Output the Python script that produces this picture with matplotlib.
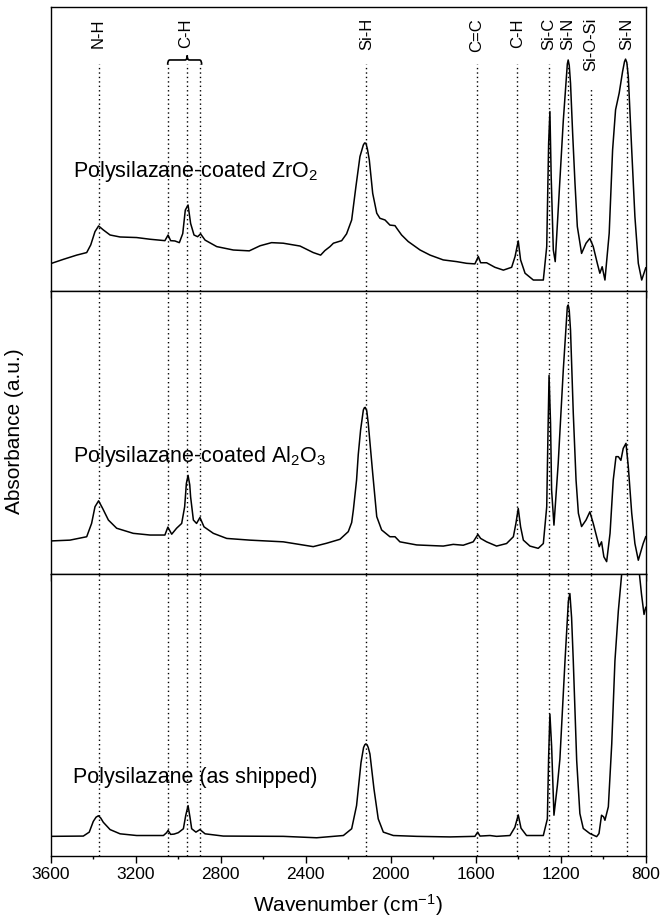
import matplotlib
matplotlib.use('Agg')
import matplotlib.pyplot as plt
from matplotlib.path import Path
from matplotlib.patches import PathPatch
import matplotlib.transforms as mtransforms

plt.rcParams['font.family'] = ['Liberation Sans', 'DejaVu Sans']
plt.rcParams['mathtext.fontset'] = 'custom'
plt.rcParams['mathtext.rm'] = 'Liberation Sans'
plt.rcParams['mathtext.it'] = 'Liberation Sans:italic'

# --- data (wavenumber cm-1, absorbance a.u.) ---
wn_zro2 = [3604, 3541, 3478, 3431, 3412, 3392, 3375, 3353, 3321, 3274, 3196, 3133,
           3063, 3048, 3036, 3016, 2995, 2979, 2967, 2954, 2942, 2926, 2909, 2895,
           2874, 2819, 2741, 2666, 2615, 2561, 2506, 2427, 2365, 2330, 2310, 2286,
           2270, 2231, 2208, 2184, 2164, 2145, 2129, 2123, 2117, 2110, 2101, 2085,
           2066, 2051, 2027, 2004, 1980, 1972, 1949, 1918, 1862, 1815, 1753, 1690,
           1643, 1604, 1588, 1577, 1549, 1510, 1470, 1431, 1415, 1400, 1389, 1368,
           1329, 1282, 1266, 1257, 1251, 1245, 1235, 1226, 1212, 1188, 1169, 1165,
           1160, 1154, 1144, 1133, 1122, 1102, 1081, 1063, 1047, 1028, 1016, 1005,
           992, 972, 956, 942, 925, 909, 900, 895, 889, 882, 866, 851, 835, 819, 800]
abs_zro2 = [0.094, 0.110, 0.125, 0.134, 0.161, 0.208, 0.228, 0.214, 0.196, 0.189, 0.187, 0.181,
            0.176, 0.196, 0.176, 0.175, 0.169, 0.201, 0.284, 0.302, 0.237, 0.196, 0.190, 0.200,
            0.178, 0.155, 0.143, 0.140, 0.158, 0.169, 0.167, 0.157, 0.134, 0.125, 0.141, 0.155,
            0.167, 0.176, 0.200, 0.249, 0.367, 0.473, 0.514, 0.521, 0.520, 0.500, 0.461, 0.343,
            0.273, 0.255, 0.249, 0.231, 0.229, 0.220, 0.196, 0.173, 0.143, 0.125, 0.108, 0.102,
            0.096, 0.094, 0.120, 0.098, 0.098, 0.082, 0.072, 0.082, 0.120, 0.175, 0.108, 0.061,
            0.037, 0.037, 0.155, 0.520, 0.632, 0.402, 0.143, 0.102, 0.285, 0.600, 0.800, 0.814,
            0.795, 0.732, 0.555, 0.379, 0.226, 0.131, 0.167, 0.184, 0.155, 0.096, 0.061, 0.084,
            0.037, 0.202, 0.496, 0.638, 0.697, 0.773, 0.808, 0.817, 0.805, 0.755, 0.496, 0.261,
            0.096, 0.037, 0.080]

wn_al2o3 = [3604, 3510, 3431, 3408, 3392, 3375, 3356, 3329, 3290, 3212, 3133, 3063,
            3049, 3031, 3008, 2984, 2970, 2962, 2954, 2946, 2942, 2929, 2914, 2898,
            2879, 2835, 2772, 2663, 2506, 2365, 2302, 2239, 2200, 2184, 2176, 2161,
            2153, 2142, 2129, 2124, 2120, 2113, 2106, 2085, 2066, 2043, 2004, 1980,
            1957, 1878, 1753, 1706, 1659, 1612, 1590, 1577, 1549, 1502, 1455, 1423,
            1411, 1400, 1389, 1376, 1345, 1306, 1282, 1266, 1260, 1255, 1248, 1243,
            1232, 1212, 1188, 1169, 1165, 1160, 1154, 1141, 1128, 1117, 1102, 1081,
            1063, 1047, 1031, 1019, 1008, 997, 984, 968, 953, 940, 929, 917, 906, 893,
            882, 866, 851, 835, 812, 800]
abs_al2o3 = [0.115, 0.118, 0.130, 0.177, 0.236, 0.257, 0.230, 0.189, 0.160, 0.142, 0.136, 0.136,
             0.164, 0.139, 0.160, 0.177, 0.236, 0.318, 0.347, 0.313, 0.271, 0.189, 0.177, 0.198,
             0.165, 0.142, 0.124, 0.118, 0.112, 0.095, 0.107, 0.121, 0.148, 0.180, 0.225, 0.330,
             0.420, 0.507, 0.578, 0.586, 0.587, 0.575, 0.531, 0.354, 0.201, 0.154, 0.130, 0.130,
             0.112, 0.101, 0.097, 0.103, 0.100, 0.112, 0.138, 0.124, 0.112, 0.097, 0.106, 0.130,
             0.177, 0.230, 0.165, 0.118, 0.097, 0.089, 0.106, 0.236, 0.500, 0.700, 0.530, 0.295,
             0.171, 0.389, 0.720, 0.943, 0.949, 0.930, 0.860, 0.566, 0.330, 0.213, 0.166, 0.189,
             0.218, 0.177, 0.130, 0.095, 0.112, 0.059, 0.042, 0.142, 0.330, 0.413, 0.413, 0.400,
             0.442, 0.460, 0.377, 0.213, 0.106, 0.047, 0.106, 0.130]

wn_ship = [3604, 3447, 3419, 3400, 3387, 3376, 3365, 3353, 3321, 3274, 3196, 3070,
           3055, 3048, 3036, 3020, 3000, 2976, 2965, 2954, 2945, 2937, 2917, 2898,
           2874, 2788, 2506, 2349, 2223, 2184, 2161, 2140, 2128, 2122, 2117, 2111,
           2106, 2098, 2079, 2059, 2035, 1988, 1878, 1721, 1604, 1591, 1580, 1533,
           1502, 1439, 1416, 1400, 1387, 1361, 1282, 1263, 1257, 1251, 1243, 1232,
           1216, 1204, 1180, 1164, 1157, 1149, 1141, 1125, 1110, 1094, 1063, 1031,
           1020, 1008, 998, 992, 976, 960, 945, 929, 913, 880, 845, 830, 820, 808, 800]
abs_ship = [0.068, 0.069, 0.083, 0.121, 0.136, 0.141, 0.133, 0.118, 0.092, 0.077, 0.071, 0.071,
            0.081, 0.089, 0.075, 0.076, 0.081, 0.095, 0.142, 0.177, 0.136, 0.095, 0.083, 0.092,
            0.077, 0.069, 0.068, 0.063, 0.071, 0.095, 0.177, 0.330, 0.383, 0.393, 0.396, 0.392,
            0.383, 0.360, 0.236, 0.130, 0.083, 0.071, 0.068, 0.066, 0.068, 0.083, 0.069, 0.071,
            0.068, 0.071, 0.100, 0.144, 0.097, 0.071, 0.071, 0.130, 0.350, 0.501, 0.388, 0.143,
            0.248, 0.342, 0.690, 0.903, 0.929, 0.844, 0.690, 0.337, 0.149, 0.096, 0.078, 0.067,
            0.078, 0.143, 0.137, 0.125, 0.173, 0.396, 0.690, 0.867, 1.000, 1.250, 1.100, 1.000,
            0.927, 0.855, 0.880]

band_pos = [3375, 3050, 2958, 2898, 2115, 1595, 1405, 1255, 1165, 1058, 890]
band_names = ['N-H', None, 'C-H', None, 'Si-H', 'C=C', 'C-H', 'Si-C', 'Si-N', 'Si-O-Si', 'Si-N']

spectra = [(wn_zro2, abs_zro2, 'Polysilazane-coated ZrO$_2$', 0.402),
           (wn_al2o3, abs_al2o3, 'Polysilazane-coated Al$_2$O$_3$', 0.395),
           (wn_ship, abs_ship, 'Polysilazane (as shipped)', 0.257)]

fig = plt.figure(figsize=(6.64, 9.24), dpi=100)
left, width = 0.0765, 0.896
bottoms = [0.6856, 0.3793, 0.0741]
heights = [0.3065, 0.3063, 0.3052]

axes = []
for i, (wn, ab, name, ty) in enumerate(spectra):
    ax = fig.add_axes([left, bottoms[i], width, heights[i]])
    ax.plot(wn, ab, color='black', lw=1.1)
    ax.set_xlim(3600, 800)
    ax.set_ylim(0, 1)
    ax.set_yticks([])
    ax.set_xticks(range(800, 3601, 400))
    ax.set_xticks(range(800, 3601, 200), minor=True)
    ax.tick_params(axis='x', which='major', direction='out', length=5, width=1,
                   labelsize=12.5, pad=3)
    ax.tick_params(axis='x', which='minor', direction='out', length=2.5, width=1)
    if i < 2:
        ax.tick_params(axis='x', labelbottom=False)
    for s in ax.spines.values():
        s.set_linewidth(1.0)
    ax.text(0.037, ty, name, transform=ax.transAxes, fontsize=15.5, va='baseline')
    axes.append(ax)

# dotted band markers through all panels
dot = dict(color='black', lw=1.0, linestyle=(0, (1, 2.2)))
for j, p in enumerate(band_pos):
    top = 0.715 if band_names[j] == 'Si-O-Si' else 0.80
    axes[0].axvline(p, ymin=0, ymax=top, **dot)
    axes[1].axvline(p, **dot)
    axes[2].axvline(p, **dot)

# rotated labels at top
tr = mtransforms.blended_transform_factory(axes[0].transData, axes[0].transAxes)
for j, p in enumerate(band_pos):
    if band_names[j] is None:
        continue
    x = 2966 if j == 2 else p
    axes[0].text(x, 0.962, band_names[j], rotation=90, ha='center', va='top',
                 fontsize=12, transform=tr)

# curly brace over the three C-H lines
y0, y1, y2 = 0.797, 0.814, 0.830
verts = [(3050, y0), (3050, y1), (3040, y1), (2968, y1), (2958, y1), (2958, y2),
         (2958, y1), (2948, y1), (2900, y1), (2890, y1), (2890, y0)]
codes = [Path.MOVETO, Path.CURVE3, Path.CURVE3, Path.LINETO, Path.CURVE3, Path.CURVE3,
         Path.CURVE3, Path.CURVE3, Path.LINETO, Path.CURVE3, Path.CURVE3]
axes[0].add_patch(PathPatch(Path(verts, codes), transform=tr, fill=False, lw=1.2,
                            color='black'))

fig.text(0.022, 0.533, 'Absorbance (a.u.)', rotation=90, ha='center', va='center',
         fontsize=15)
fig.text(0.5245, 0.021, 'Wavenumber (cm$^{-1}$)', ha='center', va='center', fontsize=15)

fig.savefig('out.png', dpi=100)
